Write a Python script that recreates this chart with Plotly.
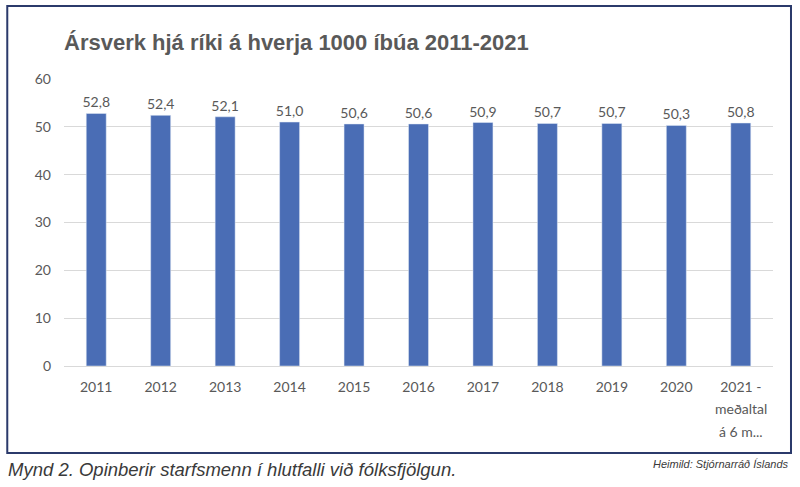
import plotly.graph_objects as go

categories = ["2011", "2012", "2013", "2014", "2015", "2016", "2017", "2018", "2019", "2020", "2021 -"]
values = [52.8, 52.4, 52.1, 51.0, 50.6, 50.6, 50.9, 50.7, 50.7, 50.3, 50.8]
labels = [f"{v:.1f}".replace(".", ",") for v in values]
y_ticks = [0, 10, 20, 30, 40, 50, 60]

W, H = 800, 487
L, R, T, B = 63.75, 27, 79, 121
pw, ph = W - L - R, H - T - B

def px(x):
    return (x - L) / pw

def py(y):
    return (H - B - y) / ph

fig = go.Figure(go.Bar(
    x=categories, y=values, text=labels, textposition="outside",
    marker_color="#4a6db5", cliponaxis=False, constraintext="none",
    textfont=dict(family="Lato, Open Sans, sans-serif", size=14, color="#595959"),
))

fig.update_layout(
    width=W, height=H, margin=dict(l=L, r=R, t=T, b=B),
    paper_bgcolor="white", plot_bgcolor="white", showlegend=False,
    bargap=0.69,
    font=dict(family="Lato, Open Sans, sans-serif", size=14, color="#595959"),
    xaxis=dict(type="category", showgrid=False, showline=True, linecolor="#d9d9d9",
               ticks="", tickfont=dict(size=14, color="#595959"), ticklabelstandoff=8),
    yaxis=dict(range=[0, 60], tickvals=y_ticks, showgrid=True, gridcolor="#d9d9d9",
               zeroline=False, ticks="", tickfont=dict(size=14, color="#595959"),
               ticklabelstandoff=12),
)

# border box
fig.add_shape(type="rect", xref="paper", yref="paper",
              x0=px(7), x1=px(791), y0=py(453), y1=py(6),
              line=dict(color="#2b3a6b", width=2), fillcolor="rgba(0,0,0,0)", layer="below")

# title
fig.add_annotation(text="<b>Ársverk hjá ríki á hverja 1000 íbúa 2011-2021</b>",
                   xref="paper", yref="paper", x=px(62), y=py(43), xanchor="left", yanchor="middle",
                   showarrow=False,
                   font=dict(family="Liberation Sans, Arial, sans-serif", size=22, color="#595959"))

# extra lines of last tick label
for txt, yy in [("meðaltal", 409), ("á 6 m...", 431)]:
    fig.add_annotation(text=txt, xref="x", yref="paper", x=categories[-1], y=py(yy),
                       xanchor="center", yanchor="middle", showarrow=False,
                       font=dict(size=14, color="#595959"))

# caption
fig.add_annotation(text="<i>Mynd 2. Opinberir starfsmenn í hlutfalli við fólksfjölgun.</i>",
                   xref="paper", yref="paper", x=px(6), y=py(469), xanchor="left", yanchor="middle",
                   showarrow=False,
                   font=dict(family="Liberation Sans, Arial, sans-serif", size=18.5, color="#3a3a3a"))
fig.add_annotation(text="<i>Heimild: Stjórnarráð Íslands</i>",
                   xref="paper", yref="paper", x=px(791), y=py(464), xanchor="right", yanchor="middle",
                   showarrow=False,
                   font=dict(family="Liberation Sans, Arial, sans-serif", size=11, color="#3a3a3a"))

fig.write_html("out.html", config={"displayModeBar": False},
               post_script="document.body.style.margin='0';")
